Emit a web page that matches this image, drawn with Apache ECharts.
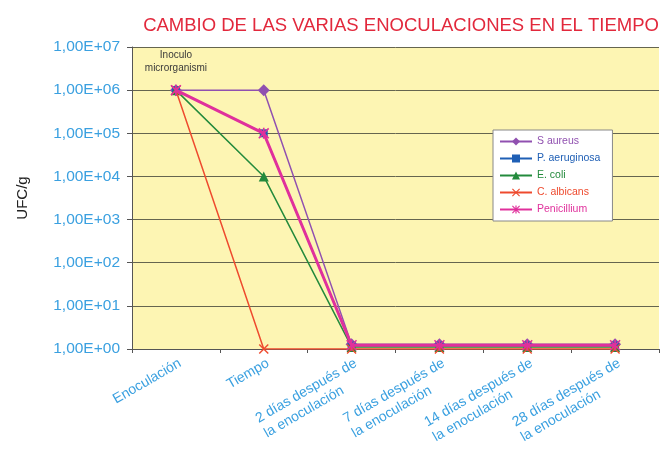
<!DOCTYPE html>
<html><head><meta charset="utf-8">
<script src="https://cdn.jsdelivr.net/npm/echarts@6/dist/echarts.min.js"></script>
<style>html,body{margin:0;padding:0;background:#fff}#c{width:663px;height:450px}</style>
</head><body><div id="c"></div>
<script>
var categories = ['Enoculación','Tiempo','2 días después de\nla enoculación','7 días después de\nla enoculación','14 días después de\nla enoculación','28 días después de\nla enoculación'];
var sAureus = [1e6, 1e6, 1.28, 1.28, 1.28, 1.28];
var pAeruginosa = [1e6, 1e5, 1.2, 1.2, 1.2, 1.2];
var eColi = [1e6, 1e4, 1.12, 1.12, 1.12, 1.12];
var cAlbicans = [1e6, 1, 1, 1, 1, 1];
var penicillium = [1e6, 1e5, 1.22, 1.22, 1.22, 1.22];
var seriesNames = ['S aureus','P. aeruginosa','E. coli','C. albicans','Penicillium'];
var annotation = 'Inoculo\nmicrorganismi';

var colors = ['#9050b0','#1f5fb5','#238a3c','#ee4a2e','#e0309c'];
var xPath = 'path://M0,2 L2,0 L10,8 L18,0 L20,2 L12,10 L20,18 L18,20 L10,12 L2,20 L0,18 L8,10 Z';
var starPath = 'path://M0,2 L2,0 L10,8 L18,0 L20,2 L12,10 L20,18 L18,20 L10,12 L2,20 L0,18 L8,10 Z M8.5,0 L11.5,0 L11.5,20 L8.5,20 Z';
var symbols = ['diamond','rect',"triangle",xPath,starPath];
var sizes = [12,8,10,10,11];
var widths = [1.5,1.5,1.5,1.5,3];
var datas = [sAureus,pAeruginosa,eColi,cAlbicans,penicillium];

var chart = echarts.init(document.getElementById('c'));
var series = seriesNames.map(function(n,i){
  var d = datas[i].map(function(v,j){
    if (i===4 && j===0) return {value:v,label:{show:true,position:'top',distance:10,formatter:annotation,color:'#3a3a3a',fontSize:10,lineHeight:13,fontFamily:'Liberation Sans Narrow, Liberation Sans, sans-serif'}};
    return v;
  });
  return {name:n,type:'line',data:d,symbol:symbols[i],symbolSize:sizes[i],
    itemStyle:{color:colors[i]},lineStyle:{color:colors[i],width:widths[i]},z:2+i,animation:false};
});
var labStyle = {color:'#3aa0e0',fontSize:14,lineHeight:17,fontFamily:'Liberation Sans, sans-serif',align:'left'};
chart.setOption({
  animation:false,
  title:{text:'CAMBIO DE LAS VARIAS ENOCULACIONES EN EL TIEMPO',left:396,textAlign:'center',top:11,
    textStyle:{color:'#e2283c',fontSize:18.5,fontWeight:'normal',fontFamily:'Liberation Sans, sans-serif'}},
  grid:{left:132,right:4,top:47,bottom:101,show:true,backgroundColor:'#fdf5b3',borderWidth:0},
  legend:{data:seriesNames.map(function(n,i){return {name:n,textStyle:{color:colors[i]}};}),
    orient:'vertical',left:493,top:130,backgroundColor:'#ffffff',borderColor:'#888',borderWidth:1,
    padding:[6,12,6,6],itemGap:6,itemWidth:32,itemHeight:10,
    textStyle:{fontSize:10.5,fontFamily:'Liberation Sans, sans-serif'}},
  xAxis:{type:'category',data:categories,boundaryGap:true,
    axisLine:{lineStyle:{color:'#555',width:1}},
    axisTick:{show:true,inside:false,length:4,lineStyle:{color:'#555'}},
    axisLabel:{rotate:30,color:'#3aa0e0',fontSize:14,lineHeight:17,margin:6,interval:0,
      align:'right',verticalAlign:'top',
      formatter:function(v){return v.split('\n').map(function(s){return '{a|'+s+'}';}).join('\n');},
      rich:{a:labStyle},
      fontFamily:'Liberation Sans, sans-serif'},
    splitLine:{show:false}},
  yAxis:{type:'log',logBase:10,min:1,max:1e7,interval:1,name:'UFC/g',nameLocation:'middle',nameGap:102,
    nameTextStyle:{color:'#222',fontSize:15,fontFamily:'Liberation Sans, sans-serif'},
    axisLine:{show:true,lineStyle:{color:'#555'}},
    axisTick:{show:true,length:5,lineStyle:{color:'#555'}},
    axisLabel:{color:'#3aa0e0',fontSize:15.5,margin:12,fontFamily:'Liberation Sans, sans-serif',
      formatter:function(v){var e=Math.round(Math.log10(v));return '1,00E+'+(e<10?'0':'')+e;}},
    splitLine:{show:true,lineStyle:{color:'#65654f',width:1}}},
  series:series
});
</script></body></html>
